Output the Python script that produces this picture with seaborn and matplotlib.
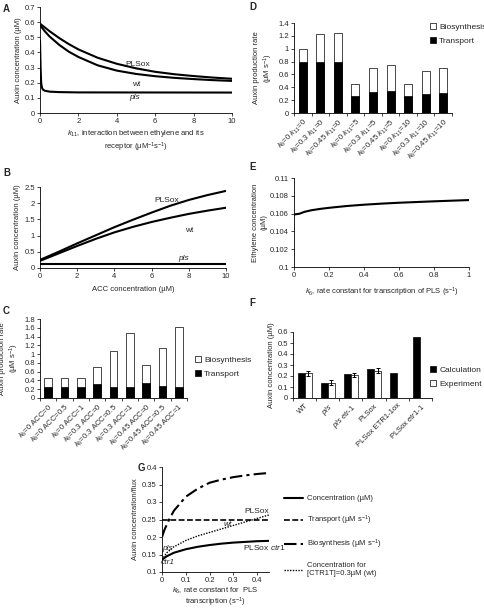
import matplotlib
matplotlib.use("Agg")
import matplotlib.pyplot as plt
import numpy as np
import pandas as pd
import seaborn as sns
from matplotlib.lines import Line2D
from matplotlib.patches import Patch
from matplotlib.ticker import FuncFormatter, MultipleLocator

# ---- A: auxin vs k11 ----
k11 = [0, 0.25, 0.5, 1, 1.5, 2, 3, 4, 5, 6, 7, 8, 9, 10]
a_plsox = [0.59, 0.565, 0.54, 0.495, 0.455, 0.42, 0.365, 0.325, 0.295, 0.272, 0.256, 0.244, 0.234, 0.226]
a_wt = [0.58, 0.54, 0.505, 0.45, 0.405, 0.37, 0.315, 0.28, 0.258, 0.243, 0.232, 0.224, 0.217, 0.212]
k11_pls = [0, 0.03, 0.06, 0.1, 0.15, 0.25, 0.5, 1, 2, 10]
a_pls = [0.48, 0.30, 0.20, 0.168, 0.155, 0.147, 0.141, 0.138, 0.136, 0.135]

# ---- B: auxin vs ACC ----
acc = [0, 1, 2, 3, 4, 5, 6, 7, 8, 9, 10]
b_plsox = [0.25, 0.5, 0.76, 1.01, 1.26, 1.49, 1.71, 1.92, 2.10, 2.25, 2.38]
b_wt = [0.22, 0.45, 0.68, 0.90, 1.10, 1.27, 1.42, 1.55, 1.67, 1.77, 1.86]
b_pls = [0.12, 0.12, 0.12, 0.12, 0.12, 0.12, 0.12, 0.12, 0.12, 0.12, 0.12]

# ---- C: production rate, k6 x ACC ----
c_labels = ["$k_6$=0 ACC=0", "$k_6$=0 ACC=0.5", "$k_6$=0 ACC=1",
            "$k_6$=0.3 ACC=0", "$k_6$=0.3 ACC=0.5", "$k_6$=0.3 ACC=1",
            "$k_6$=0.45 ACC=0", "$k_6$=0.45 ACC=0.5", "$k_6$=0.45 ACC=1"]
c_transport = [0.25, 0.25, 0.25, 0.31, 0.26, 0.26, 0.34, 0.28, 0.26]
c_biosynth = [0.21, 0.21, 0.21, 0.39, 0.80, 1.21, 0.41, 0.87, 1.35]

# ---- D: production rate, k6 x k11 ----
d_labels = ["$k_6$=0 $k_{11}$=0", "$k_6$=0.3 $k_{11}$=0", "$k_6$=0.45 $k_{11}$=0",
            "$k_6$=0 $k_{11}$=5", "$k_6$=0.3 $k_{11}$=5", "$k_6$=0.45 $k_{11}$=5",
            "$k_6$=0 $k_{11}$=10", "$k_6$=0.3 $k_{11}$=10", "$k_6$=0.45 $k_{11}$=10"]
d_transport = [0.79, 0.79, 0.80, 0.26, 0.32, 0.35, 0.26, 0.29, 0.31]
d_biosynth = [0.21, 0.44, 0.45, 0.19, 0.38, 0.40, 0.19, 0.37, 0.39]

# ---- E: ethylene vs k6 ----
e_k6 = [0, 0.03, 0.06, 0.1, 0.15, 0.2, 0.3, 0.4, 0.5, 0.6, 0.7, 0.8, 0.9, 1.0]
e_ethylene = [0.1059, 0.10598, 0.1062, 0.10638, 0.10653, 0.10665, 0.10685, 0.107,
              0.10712, 0.10722, 0.1073, 0.10738, 0.10745, 0.10752]

# ---- F: calculation vs experiment ----
f_labels = ["WT", "$\\it{pls}$", "$\\it{pls\\ etr}$-1", "PLSox",
            "PLSox ETR1-1ox", "PLSox $\\it{etr}$1-1"]
f_calc = [0.23, 0.135, 0.215, 0.26, 0.225, 0.555]
f_exp = [0.225, 0.14, 0.21, 0.25, np.nan, np.nan]
f_err = [0.025, 0.025, 0.02, 0.025, np.nan, np.nan]

# ---- G: auxin concentration / flux vs k6 ----
g_k6 = [0, 0.02, 0.05, 0.1, 0.15, 0.2, 0.25, 0.3, 0.35, 0.4, 0.45]
g_conc = [0.135, 0.145, 0.155, 0.165, 0.172, 0.177, 0.181, 0.184, 0.186, 0.188, 0.189]
g_transport = [0.25, 0.25, 0.25, 0.25, 0.25, 0.25, 0.25, 0.25, 0.25, 0.25, 0.25]
g_conc_wt = [0.135, 0.155, 0.172, 0.19, 0.203, 0.213, 0.223, 0.233, 0.243, 0.253, 0.263]
g_k6_bio = [0, 0.01, 0.03, 0.05, 0.1, 0.15, 0.2, 0.25, 0.3, 0.35, 0.4, 0.45]
g_biosynth = [0.2, 0.22, 0.25, 0.275, 0.315, 0.338, 0.355, 0.364, 0.371, 0.376, 0.38, 0.383]

sns.set_theme(style="ticks")
plt.rcParams["font.family"] = ["Liberation Sans", "DejaVu Sans"]
plt.rcParams.update({
    "mathtext.fontset": "custom",
    "mathtext.rm": "Liberation Sans",
    "mathtext.it": "Liberation Sans:italic",
    "font.size": 5.5,
    "axes.labelsize": 5.5,
    "xtick.labelsize": 5.5,
    "ytick.labelsize": 5.5,
    "axes.linewidth": 0.6,
    "xtick.major.width": 0.6,
    "ytick.major.width": 0.6,
    "xtick.minor.width": 0.6,
    "xtick.major.size": 2.2,
    "ytick.major.size": 2.2,
    "xtick.minor.size": 2.2,
    "xtick.major.pad": 1.5,
    "ytick.major.pad": 1.5,
    "axes.labelpad": 2,
    "axes.edgecolor": "black",
})

W, H = 485, 609
fig = plt.figure(figsize=(W / 100, H / 100), dpi=100)
gfmt = FuncFormatter(lambda v, p: f"{v:g}")


def add_ax(l, t, r, b):
    ax = fig.add_axes([l / W, 1 - b / H, (r - l) / W, (b - t) / H])
    sns.despine(ax=ax)
    ax.yaxis.set_major_formatter(gfmt)
    ax.xaxis.set_major_formatter(gfmt)
    return ax


def letter(x, y, s):
    fig.text(x / W, 1 - y / H, s, fontsize=7, fontweight="bold", va="top", ha="left")


def line(ax, x, y, **kw):
    sns.lineplot(x=x, y=y, color="black", ax=ax, **kw)


def stacked(ax, labels, transport, biosynth):
    total = np.array(transport) + np.array(biosynth)
    sns.barplot(x=labels, y=total, color="white", edgecolor="black", linewidth=0.5,
                width=0.45, saturation=1, ax=ax)
    sns.barplot(x=labels, y=transport, color="black", edgecolor="black", linewidth=0.5,
                width=0.45, saturation=1, ax=ax)
    n = len(labels)
    ax.set_xlim(-0.5, n - 0.5)
    ax.set_xticks(range(n))
    ax.set_xticklabels(labels, rotation=45, ha="right", rotation_mode="anchor")
    ax.tick_params(axis="x", which="major", length=0, pad=3)
    ax.set_xticks(np.arange(n + 1) - 0.5, minor=True)
    ax.set_ylabel("Auxin production rate\n(µM s$^{-1}$)")


def bar_legend(handles, labels, x, y):
    fig.legend(handles, labels, loc="center left", bbox_to_anchor=(x / W, 1 - y / H),
               frameon=False, fontsize=6, handlelength=0.75, handleheight=0.75,
               handletextpad=0.35, labelspacing=0.7, borderpad=0, borderaxespad=0)


bar_handles = [Patch(facecolor="white", edgecolor="black", linewidth=0.5),
               Patch(facecolor="black", edgecolor="black", linewidth=0.5)]

# A
ax = add_ax(40, 7, 232, 113)
line(ax, k11, a_plsox, lw=1.5)
line(ax, k11, a_wt, lw=1.5)
line(ax, k11_pls, a_pls, lw=1.5)
ax.set_xlim(0, 10)
ax.set_ylim(0, 0.7)
ax.xaxis.set_major_locator(MultipleLocator(2))
ax.yaxis.set_major_locator(MultipleLocator(0.1))
ax.text(5.1, 0.32, "PLSox", ha="center", va="center", fontsize=6)
ax.text(5.0, 0.19, "wt", ha="center", va="center", fontsize=6)
ax.text(4.9, 0.1, "pls", ha="center", va="center", fontsize=6, style="italic")
ax.set_xlabel("$k_{11}$, interaction between ethylene and its\nreceptor (µM$^{-1}$s$^{-1}$)")
ax.set_ylabel("Auxin concentration (µM)")
letter(3, 4, "A")

# B
ax = add_ax(40, 187, 226, 268)
line(ax, acc, b_plsox, lw=1.5)
line(ax, acc, b_wt, lw=1.5)
line(ax, acc, b_pls, lw=1.5)
ax.set_xlim(0, 10)
ax.set_ylim(0, 2.5)
ax.xaxis.set_major_locator(MultipleLocator(2))
ax.yaxis.set_major_locator(MultipleLocator(0.5))
ax.text(6.8, 2.09, "PLSox", ha="center", va="center", fontsize=6)
ax.text(8.0, 1.17, "wt", ha="center", va="center", fontsize=6)
ax.text(7.7, 0.3, "pls", ha="center", va="center", fontsize=6, style="italic")
ax.set_xlabel("ACC concentration (µM)", labelpad=4)
ax.set_ylabel("Auxin concentration (µM)")
letter(3, 168, "B")

# C
ax = add_ax(40, 319, 187, 398)
stacked(ax, c_labels, c_transport, c_biosynth)
ax.set_ylim(0, 1.8)
ax.yaxis.set_major_locator(MultipleLocator(0.2))
bar_legend(bar_handles, ["Biosynthesis", "Transport"], 195, 367)
letter(3, 306, "C")

# D
ax = add_ax(294, 23, 452, 113)
stacked(ax, d_labels, d_transport, d_biosynth)
ax.set_ylim(0, 1.4)
ax.yaxis.set_major_locator(MultipleLocator(0.2))
bar_legend(bar_handles, ["Biosynthesis", "Transport"], 430, 34)
letter(249, 2, "D")

# E
ax = add_ax(294, 178, 469, 267)
line(ax, e_k6, e_ethylene, lw=1.5)
ax.set_xlim(0, 1)
ax.set_ylim(0.1, 0.11)
ax.xaxis.set_major_locator(MultipleLocator(0.2))
ax.yaxis.set_major_locator(MultipleLocator(0.002))
ax.yaxis.set_major_formatter(FuncFormatter(lambda v, p: f"{round(v, 4):g}"))
ax.set_xlabel("$k_6$, rate constant for transcription of PLS (s$^{-1}$)", labelpad=5)
ax.set_ylabel("Ethylene concentration\n(µM)")
letter(249, 162, "E")

# F
ax = add_ax(293, 332, 432, 398)
f_df = pd.DataFrame({
    "strain": f_labels * 2,
    "value": f_calc + f_exp,
    "kind": ["Calculation"] * len(f_labels) + ["Experiment"] * len(f_labels),
})
sns.barplot(data=f_df, x="strain", y="value", hue="kind", order=f_labels,
            palette={"Calculation": "black", "Experiment": "white"},
            edgecolor="black", linewidth=0.5, width=0.6, saturation=1,
            legend=False, ax=ax)
xpos = np.arange(len(f_labels)) + 0.15
ax.errorbar(xpos, f_exp, yerr=f_err, fmt="none", ecolor="black",
            elinewidth=0.7, capsize=1.5, capthick=0.7)
ax.set_xlim(-0.5, len(f_labels) - 0.5)
ax.set_ylim(0, 0.6)
ax.yaxis.set_major_locator(MultipleLocator(0.1))
ax.set_xticks(range(len(f_labels)))
ax.set_xticklabels(f_labels, rotation=45, ha="right", rotation_mode="anchor")
ax.tick_params(axis="x", which="major", length=0, pad=3)
ax.set_xticks(np.arange(len(f_labels) + 1) - 0.5, minor=True)
ax.set_xlabel("")
ax.set_ylabel("Auxin concentration (µM)")
bar_legend([bar_handles[1], bar_handles[0]], ["Calculation", "Experiment"], 430, 377)
letter(249, 298, "F")

# G
ax = add_ax(162, 467, 269, 572)
line(ax, g_k6, g_conc, lw=1.5)
line(ax, g_k6, g_transport, lw=1.2, dashes=(3.5, 1.5))
line(ax, g_k6_bio, g_biosynth, lw=1.5, dashes=(6, 2, 1.5, 2))
line(ax, g_k6, g_conc_wt, lw=1.0, dashes=(1, 1))
ax.set_xlim(0, 0.45)
ax.set_ylim(0.1, 0.4)
ax.set_xticks([0, 0.1, 0.2, 0.3, 0.4])
ax.yaxis.set_major_locator(MultipleLocator(0.05))
ax.text(0.45, 0.274, "PLSox", ha="right", va="center", fontsize=6)
ax.text(0.278, 0.236, "wt", ha="center", va="center", fontsize=6, style="italic")
ax.text(0.43, 0.171, "PLSox $\\it{ctr1}$", ha="center", va="center", fontsize=6)
ax.text(0.025, 0.166, "pls", ha="center", va="center", fontsize=6, style="italic")
ax.text(0.025, 0.126, "ctr1", ha="center", va="center", fontsize=6, style="italic")
ax.set_xlabel("$k_6$, rate constant for  PLS\ntranscription (s$^{-1}$)",
              labelpad=1, linespacing=0.95)
ax.set_ylabel("Auxin concentration/flux")
g_handles = [Line2D([], [], color="black", lw=1.5),
             Line2D([], [], color="black", lw=1.2, dashes=(3.5, 1.5)),
             Line2D([], [], color="black", lw=1.5, dashes=(6, 2, 1.5, 2)),
             Line2D([], [], color="black", lw=1.0, dashes=(1, 1))]
fig.legend(g_handles, ["Concentration (µM)", "Transport (µM s$^{-1}$)",
                       "Biosynthesis (µM s$^{-1}$)",
                       "Concentration for\n[CTR1T]=0.3µM (wt)"],
           loc="upper left", bbox_to_anchor=(284 / W, 1 - 495 / H), frameon=False,
           fontsize=5.5, handlelength=2.5, handletextpad=0.5, labelspacing=1.45,
           borderpad=0, borderaxespad=0)
letter(138, 463, "G")

fig.savefig("out.png", dpi=100)
